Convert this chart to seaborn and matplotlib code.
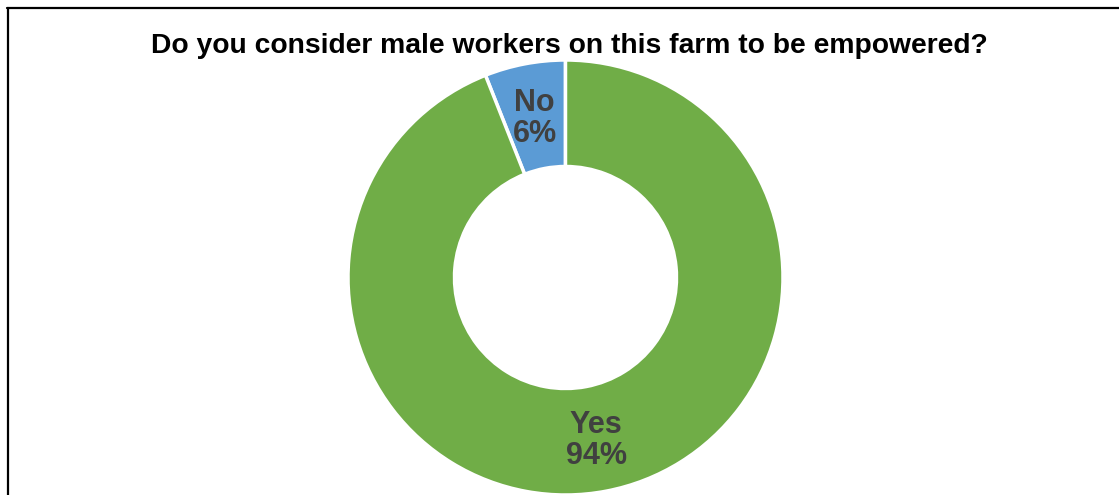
import matplotlib
matplotlib.use("Agg")
import matplotlib.pyplot as plt
from matplotlib.lines import Line2D
import numpy as np
import seaborn as sns

# Survey answers and their shares (percent)
answers = ["No", "Yes"]
shares = [6, 94]
slice_colors = ["#5B9BD5", "#70AD47"]
title_text = "Do you consider male workers on this farm to be empowered?"

sns.set_theme(style="white")
plt.rcParams["font.family"] = ["Liberation Sans", "DejaVu Sans"]

W, H = 1119, 495
fig = plt.figure(figsize=(W / 100, H / 100), dpi=100)
ax = fig.add_axes([0, 0, 1, 1])

cx, cy = 565.5, H - 277.5
r_out = 217.5
ring = 106.5
wedges, _ = ax.pie(
    shares,
    colors=slice_colors,
    startangle=90,
    counterclock=True,
    center=(cx, cy),
    radius=r_out,
    wedgeprops=dict(width=ring, edgecolor="white", linewidth=2.5),
    frame=True,
)
ax.set_xlim(0, W)
ax.set_ylim(0, H)
ax.set_aspect("equal")
ax.axis("off")

# Category and percentage inside each ring segment
r_mid = r_out - ring / 2
for w, name, val in zip(wedges, answers, shares):
    ang = np.deg2rad((w.theta1 + w.theta2) / 2)
    x = cx + r_mid * np.cos(ang)
    y = cy + r_mid * np.sin(ang) - 2
    ax.text(x, y, f"{name}\n{val}%", ha="center", va="center",
            fontsize=22, fontweight="bold", color="#404040", linespacing=1.05)

ax.text(569, H - 46, title_text, ha="center", va="center",
        fontsize=20.3, fontweight="bold", color="black")

# Frame lines along the top and left edges
fig.add_artist(Line2D([7 / W, 1], [1 - 8 / H, 1 - 8 / H], transform=fig.transFigure,
                      color="black", linewidth=1.6))
fig.add_artist(Line2D([7.5 / W, 7.5 / W], [0, 1 - 8 / H], transform=fig.transFigure,
                      color="black", linewidth=1.6))

fig.savefig("out.png", dpi=100, facecolor="white")
